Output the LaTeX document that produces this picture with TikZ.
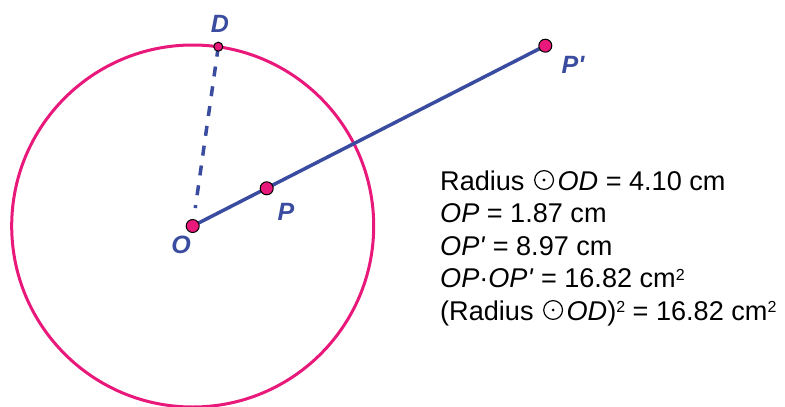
\documentclass[tikz,border=0pt]{standalone}
\usepackage{fontspec}
\usetikzlibrary{calc}
\setmainfont{Liberation Sans}
\definecolor{circmag}{HTML}{E8197A}
\definecolor{lineblue}{HTML}{3A4CA0}
\newcommand{\cdotcirc}{\hspace{2pt}\tikz[baseline=0pt,x=1pt,y=1pt]{\draw[line width=1.2pt] (10,10) circle[radius=9.4]; \fill (10,10) circle[radius=1.6];}\hspace{3.5pt}}
\newcommand{\sqsup}{\raisebox{7.5pt}{\fontsize{16}{16}\selectfont 2}}
\newcommand{\pr}{\textquotesingle}
\begin{document}
\begin{tikzpicture}[x=1pt,y=-1pt,
  pt/.style={circle,draw=black,line width=1pt,fill=circmag,inner sep=0pt,minimum size=#1},
  lbl/.style={text=lineblue,font=\fontsize{25}{25}\selectfont\bfseries\itshape},
  txt/.style={anchor=base west,inner sep=0pt,font=\fontsize{27.1}{27.1}\selectfont},
  seg/.style={draw=lineblue,line width=3.5pt}]
\useasboundingbox (0,0) rectangle (785,407);
\coordinate (O) at (192.7,226);
\draw[circmag,line width=3pt] (O) circle[radius=181];
\coordinate (Dc) at (218.3,46.7);
\coordinate (Pc) at (266.7,188.3);
\coordinate (Ppc) at (545.3,45.7);
\coordinate (Os) at ($(O)!0.1!(Dc)$);
\draw[seg,dash pattern=on 10pt off 10pt] (Dc) -- (Os);
\draw[seg] (O) -- (Ppc);
\node[pt=13pt] (nO) at (O) {};
\node[pt=13pt] (nP) at (Pc) {};
\node[pt=13pt] (nPp) at (Ppc) {};
\node[pt=9pt] (nD) at (Dc) {};
\node[lbl] (lD) at (220,24) {D};
\node[lbl] (lO) at (181,245) {O};
\node[lbl] (lP) at (286,212) {P};
\node[lbl] (lPp) at (573,65) {P\pr};
\node[txt] (t1) at (440,190) {Radius \cdotcirc\textit{OD} = 4.10 cm};
\node[txt] (t2) at (440,222.5) {\textit{OP} = 1.87 cm};
\node[txt] (t3) at (440,255) {\textit{OP\pr} = 8.97 cm};
\node[txt] (t4) at (440,287.5) {\textit{OP}·\textit{OP\pr} = 16.82 cm\sqsup};
\node[txt] (t5) at (440,320) {(Radius \cdotcirc\textit{OD})\sqsup{} = 16.82 cm\sqsup};
\end{tikzpicture}
\end{document}
